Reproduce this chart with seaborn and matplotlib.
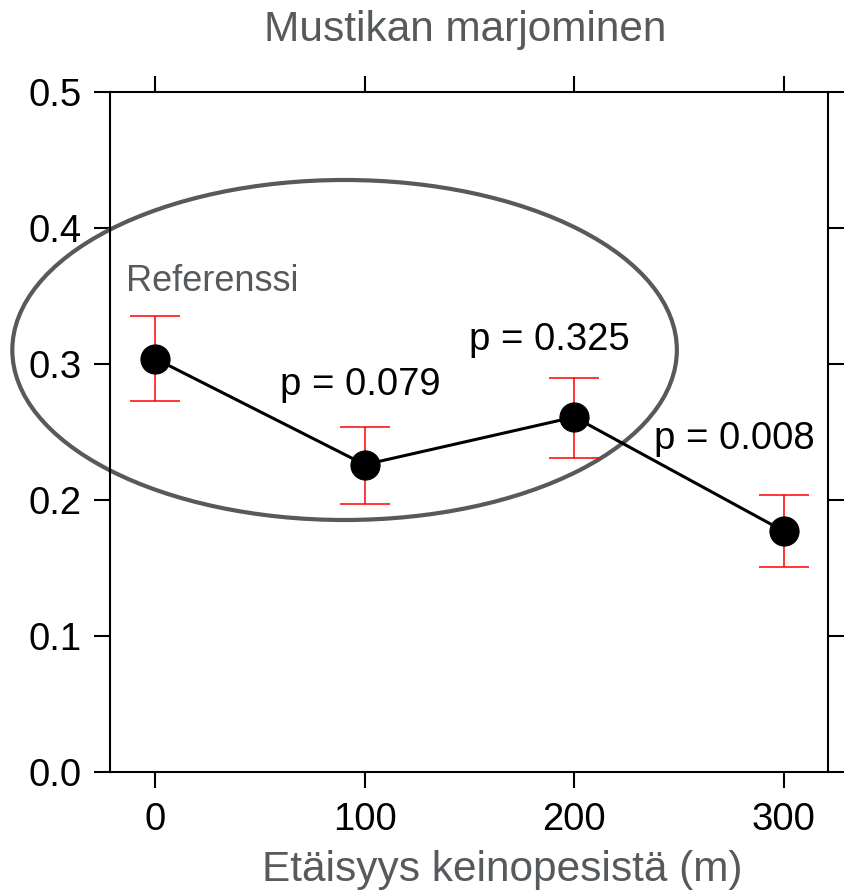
import matplotlib
matplotlib.use("Agg")
import matplotlib.pyplot as plt
from matplotlib.patches import Ellipse
import numpy as np
import pandas as pd
import seaborn as sns

# Mean berry yield by distance from the artificial nests, with error limits
distance = [0, 100, 200, 300]
mean_value = [0.304, 0.226, 0.261, 0.177]
upper_limit = [0.335, 0.254, 0.290, 0.204]
lower_limit = [0.273, 0.197, 0.231, 0.151]
p_labels = ["p = 0.079", "p = 0.325", "p = 0.008"]
p_label_pos = [(98, 0.277), (188, 0.310), (276.5, 0.2375)]

x_ticks = [0, 100, 200, 300]
y_ticks = [0.0, 0.1, 0.2, 0.3, 0.4, 0.5]

title_text = "Mustikan marjominen"
xlabel_text = "Etäisyys keinopesistä (m)"
reference_text = "Referenssi"

df = pd.DataFrame({"distance": distance, "mean": mean_value})

sns.set_theme(style="ticks")
plt.rcParams["font.family"] = ["Liberation Sans", "DejaVu Sans"]

grey = "#575a5d"

fig = plt.figure(figsize=(8.48, 8.94), dpi=100)
ax = fig.add_axes([110 / 848, 1 - 772 / 894, 718 / 848, 680 / 894])

# Reference group ellipse (drawn beyond the axes on the left)
ell = Ellipse((90.4, 0.3103), width=317, height=0.25, fill=False,
              edgecolor=grey, linewidth=3.0, clip_on=False, zorder=1)
ax.add_patch(ell)

# Error bars
yerr = np.array([np.array(mean_value) - np.array(lower_limit),
                 np.array(upper_limit) - np.array(mean_value)])
ax.errorbar(distance, mean_value, yerr=yerr, fmt="none", ecolor="red",
            elinewidth=1.1, capsize=18, capthick=1.1, zorder=2)

# Mean line with markers
sns.lineplot(data=df, x="distance", y="mean", ax=ax, color="black",
             linewidth=2.2, marker="o", markersize=21, markeredgecolor="black",
             zorder=3)

ax.set_xlim(-21.5, 321)
ax.set_ylim(0.0, 0.5)
ax.set_xticks(x_ticks)
ax.set_yticks(y_ticks)
ax.set_xticklabels([str(t) for t in x_ticks])
ax.set_yticklabels([f"{t:.1f}" for t in y_ticks])

for side in ["left", "right", "top", "bottom"]:
    ax.spines[side].set_visible(True)
    ax.spines[side].set_linewidth(1.5)
    ax.spines[side].set_color("black")

ax.tick_params(axis="both", which="major", direction="out", length=11.5,
               width=1.5, color="black", labelsize=27.5, labelcolor="black",
               top=True, right=True, labeltop=False, labelright=False)
ax.tick_params(axis="y", pad=9)
ax.tick_params(axis="x", pad=10)

ax.set_xlabel(xlabel_text, fontsize=30.5, color=grey, va="baseline")
ax.xaxis.set_label_coords((502 - 110) / 718, (772 - 881) / 680)
ax.set_ylabel("")

ax.set_title(title_text, fontsize=30.5, color=grey, va="baseline",
             x=(465 - 110) / 718, y=1 + (92 - 49) / 680)

ax.text(27.2, 0.354, reference_text, fontsize=26, color=grey,
        ha="center", va="baseline", zorder=4)
for (px, py), lab in zip(p_label_pos, p_labels):
    ax.text(px, py, lab, fontsize=27.5, color="black", ha="center",
            va="baseline", zorder=4)

fig.savefig("out.png", dpi=100, facecolor="white")
